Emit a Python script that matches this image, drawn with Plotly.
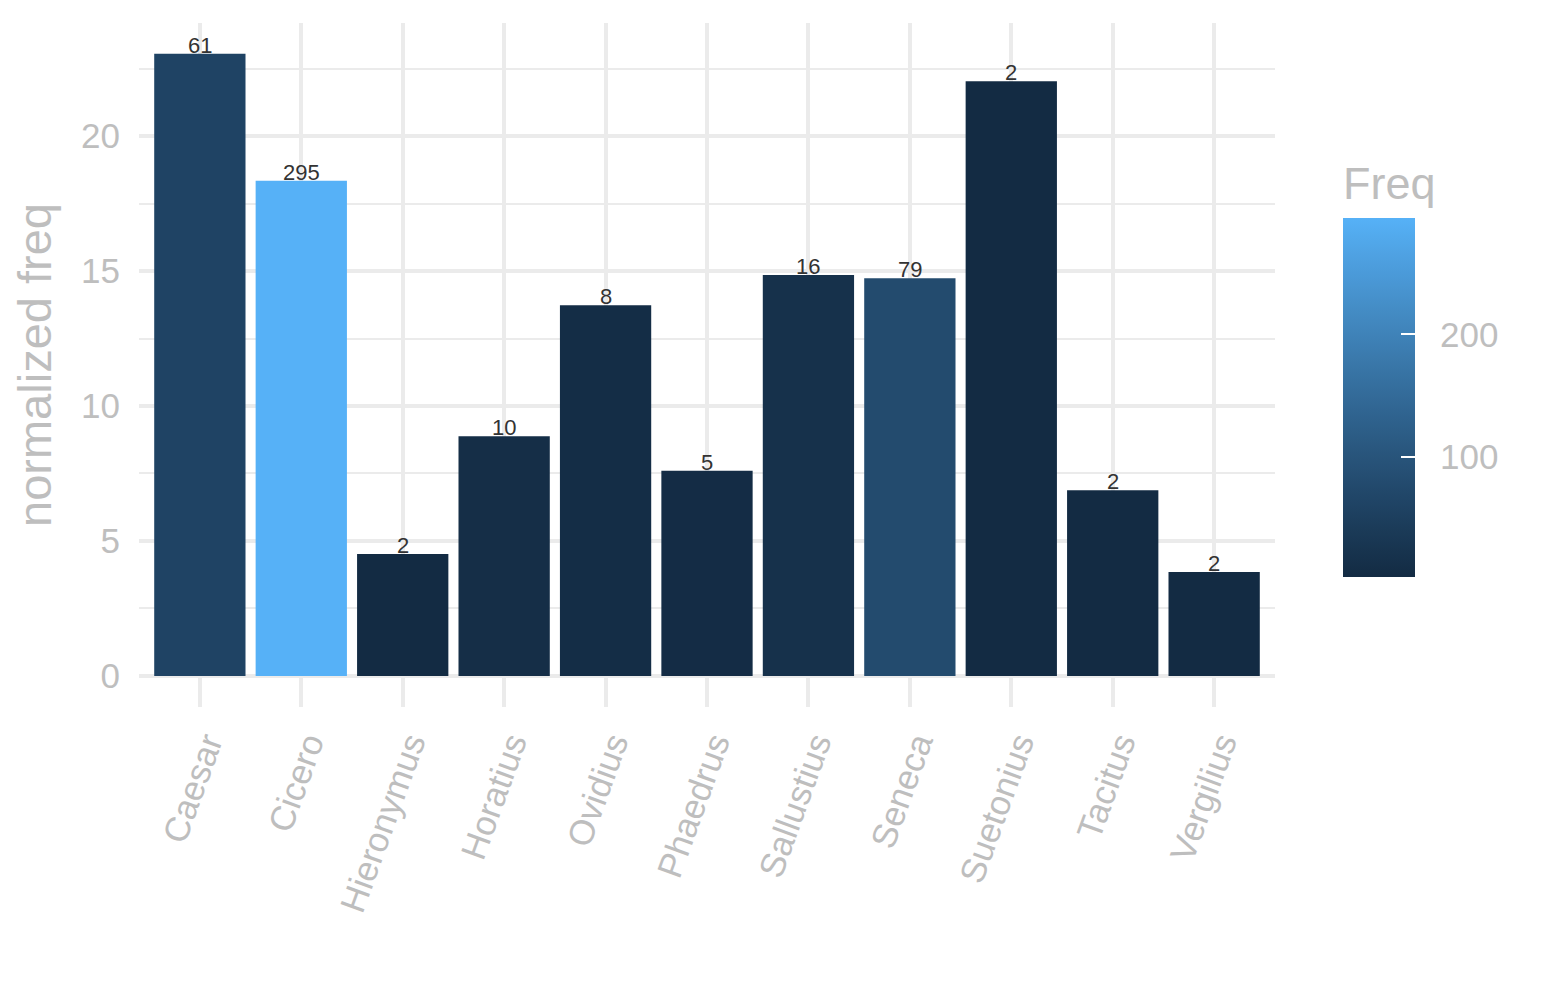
import numpy as np
import plotly.graph_objects as go

# ---- data ----
authors = ["Caesar", "Cicero", "Hieronymus", "Horatius", "Ovidius", "Phaedrus",
           "Sallustius", "Seneca", "Suetonius", "Tacitus", "Vergilius"]
norm_freq = [23.05, 18.35, 4.52, 8.88, 13.73, 7.6, 14.85, 14.73, 22.03, 6.88, 3.85]
freq = [61, 295, 2, 10, 8, 5, 16, 79, 2, 2, 2]
y_ticks = [0, 5, 10, 15, 20]
cbar_ticks = [100, 200]
cbar_ticklabels = ["100", "200"]

# ---- ggplot-like gradient (#132B43 -> #56B1F7) interpolated in CIELAB ----
def _hex2rgb(h):
    h = h.lstrip("#")
    return np.array([int(h[i:i + 2], 16) for i in (0, 2, 4)]) / 255.0

M = np.array([[0.4124564, 0.3575761, 0.1804375],
              [0.2126729, 0.7151522, 0.0721750],
              [0.0193339, 0.1191920, 0.9503041]])
WHITE = np.array([0.95047, 1.0, 1.08883])

def _rgb2lab(rgb):
    lin = np.where(rgb <= 0.04045, rgb / 12.92, ((rgb + 0.055) / 1.055) ** 2.4)
    xyz = M @ lin / WHITE
    f = np.where(xyz > (6 / 29) ** 3, np.cbrt(xyz), xyz / (3 * (6 / 29) ** 2) + 4 / 29)
    return np.array([116 * f[1] - 16, 500 * (f[0] - f[1]), 200 * (f[1] - f[2])])

def _lab2hex(lab):
    L, a, b = lab
    fy = (L + 16) / 116
    fx = fy + a / 500
    fz = fy - b / 200
    f = np.array([fx, fy, fz])
    xyz = np.where(f > 6 / 29, f ** 3, 3 * (6 / 29) ** 2 * (f - 4 / 29)) * WHITE
    lin = np.linalg.solve(M, xyz)
    lin = np.clip(lin, 0, 1)
    rgb = np.where(lin <= 0.0031308, 12.92 * lin, 1.055 * lin ** (1 / 2.4) - 0.055)
    rgb = np.clip(np.round(rgb * 255), 0, 255).astype(int)
    return "#%02x%02x%02x" % tuple(rgb)

lo, hi = _rgb2lab(_hex2rgb("#132B43")), _rgb2lab(_hex2rgb("#56B1F7"))
stops = np.linspace(0, 1, 21)
colorscale = [[float(t), _lab2hex(lo + (hi - lo) * t)] for t in stops]

GRAY = "#BEBEBE"
GRID = "#EBEBEB"
FONT = "Liberation Sans, Arial, Helvetica, sans-serif"
PAD = "\u2002"  # visual gap between colour bar and its labels

fig = go.Figure()
fig.add_trace(go.Bar(
    x=authors, y=norm_freq, width=0.9,
    marker=dict(
        color=freq, colorscale=colorscale, line=dict(width=0),
        colorbar=dict(
            title=dict(text="Freq", side="top", font=dict(size=45, color=GRAY, family=FONT)),
            thickness=72, len=415, lenmode="pixels",
            x=1.0599, xanchor="left", y=0.19, yanchor="bottom",
            xpad=0, ypad=0,
            tickmode="array", tickvals=cbar_ticks,
            ticktext=[PAD + t for t in cbar_ticklabels],
            ticks="inside", ticklen=14, tickcolor="white", tickwidth=2,
            tickfont=dict(size=35, color=GRAY, family=FONT),
            outlinewidth=0,
        ),
    ),
    hoverinfo="skip",
))

for a, v, f in zip(authors, norm_freq, freq):
    fig.add_annotation(x=a, y=v, text=str(f), showarrow=False, yanchor="bottom",
                       yshift=-6, font=dict(size=22, color="#333333", family=FONT))

fig.update_layout(
    width=1545, height=1000,
    margin=dict(l=131, r=278, t=15, b=301),
    paper_bgcolor="white", plot_bgcolor="white",
    font=dict(family=FONT, color=GRAY),
    showlegend=False, bargap=0.1,
    xaxis=dict(
        range=[-0.6, 10.6], showgrid=True, gridcolor=GRID, gridwidth=3.5,
        tickangle=-70, tickfont=dict(size=35, color=GRAY), ticks="",
        showline=False, zeroline=False, ticklabelstandoff=8, ticklabelshift=7,
    ),
    yaxis=dict(
        range=[-1.152, 24.19], tickvals=y_ticks, showgrid=True, gridcolor=GRID,
        gridwidth=3.5, zeroline=False, showline=False, ticks="",
        tickfont=dict(size=35, color=GRAY), ticklabelstandoff=18,
        minor=dict(dtick=2.5, tick0=0, showgrid=True, gridcolor=GRID, gridwidth=2),
        title=dict(text="normalized freq", font=dict(size=47, color=GRAY), standoff=14),
    ),
)

fig.write_html("out.html")
